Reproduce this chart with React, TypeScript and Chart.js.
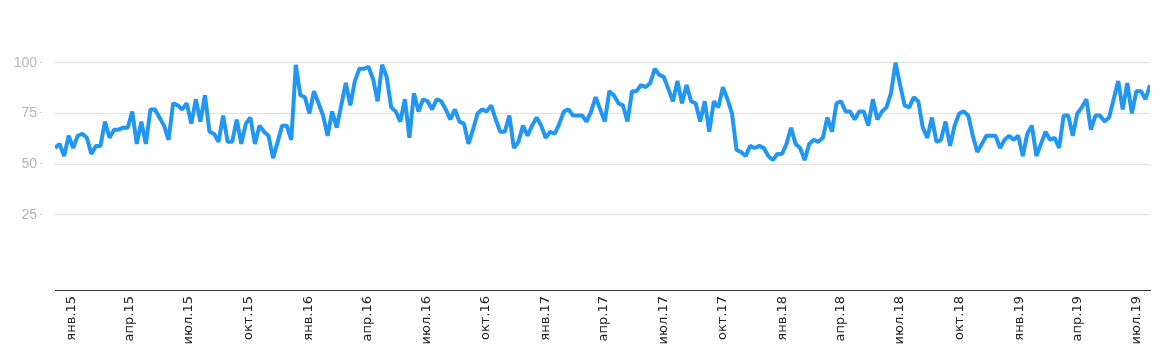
import React, { useEffect, useRef } from "react";
import { Chart, registerables } from "chart.js";

Chart.register(...registerables);

// Weekly interest values (starting week of 7 Dec 2014)
const weeksDec14ToSep15 = [
  58, 60, 54, 64, 58, 64, 65, 63, 55, 59, 59, 71, 63, 67, 67, 68, 68, 76, 60, 71,
  60, 77, 77, 73, 69, 62, 80, 79, 77, 80, 70, 82, 71, 84, 66, 65, 61, 74, 61, 61, 72,
];
const weeksSep15ToJun16 = [
  60, 70, 73, 60, 69, 66, 64, 53, 61, 69, 69, 62, 99, 84, 83, 75, 86, 80, 74, 64,
  76, 68, 79, 90, 79, 91, 97, 97, 98, 92, 81, 99, 93, 78, 76, 71, 82, 63, 85, 76,
];
const weeksJun16ToApr17 = [
  82, 81, 77, 82, 81, 77, 72, 77, 71, 70, 60, 67, 75, 77, 76, 79, 72, 66, 66, 74,
  58, 61, 69, 64, 69, 73, 69, 63, 66, 65, 70, 76, 77, 74, 74, 74, 71, 76, 83, 77, 71,
];
const weeksApr17ToJan18 = [
  86, 84, 80, 79, 71, 86, 86, 89, 88, 90, 97, 94, 93, 87, 81, 91, 80, 89, 81, 80,
  71, 81, 66, 81, 78, 88, 82, 75, 57, 56, 54, 59, 58, 59, 58, 54, 52, 55, 55, 60, 68,
];
const weeksJan18ToOct18 = [
  60, 58, 52, 60, 62, 61, 63, 73, 66, 80, 81, 76, 76, 72, 76, 76, 69, 82, 72, 76,
  78, 85, 100, 89, 79, 78, 83, 81, 68, 63, 73, 61, 62, 71, 59, 69, 75, 76, 74, 64, 56, 60,
];
const weeksOct18ToJul19 = [
  64, 64, 64, 58, 62, 64, 62, 64, 54, 65, 69, 54, 60, 66, 62, 63, 58, 74, 74, 64,
  75, 78, 82, 67, 74, 74, 71, 73, 82, 91, 77, 90, 75, 86, 86, 82, 89,
];

const series = [
  ...weeksDec14ToSep15,
  ...weeksSep15ToJun16,
  ...weeksJun16ToApr17,
  ...weeksApr17ToJan18,
  ...weeksJan18ToOct18,
  ...weeksOct18ToJul19,
];

const yTickValues = [25, 50, 75, 100];

const xTickLabels = [
  "янв.15", "апр.15", "июл.15", "окт.15",
  "янв.16", "апр.16", "июл.16", "окт.16",
  "янв.17", "апр.17", "июл.17", "окт.17",
  "янв.18", "апр.18", "июл.18", "окт.18",
  "янв.19", "апр.19", "июл.19",
];
// position of the 1st of each month, in weeks from the first data week
const xTickWeeks = [
  3.571, 16.429, 29.429, 42.571,
  55.714, 68.714, 81.714, 94.857,
  108.0, 120.857, 133.857, 147.0,
  160.143, 173.0, 186.0, 199.143,
  212.286, 225.143, 238.143,
];

const noPad = (s: any) => {
  s.paddingTop = 0;
  s.paddingBottom = 0;
  s.paddingLeft = 0;
  s.paddingRight = 0;
};

// small tick marks between the y labels and the plot
const yTickMarks = {
  id: "yTickMarks",
  afterDraw(chart: any) {
    const { ctx, scales } = chart;
    const y = scales.y;
    ctx.save();
    ctx.fillStyle = "#cfcfcf";
    y.ticks.forEach((t: any) => {
      const py = Math.round(y.getPixelForValue(t.value));
      ctx.fillRect(40, py - 1, 2, 1);
    });
    ctx.restore();
  },
};

export default function App() {
  const ref = useRef<HTMLCanvasElement>(null);

  useEffect(() => {
    document.body.style.margin = "0";
    const chart = new Chart(ref.current as HTMLCanvasElement, {
      type: "line",
      data: {
        datasets: [
          {
            data: series.map((v, i) => ({ x: i, y: v })),
            borderColor: "#2196f3",
            borderWidth: 4,
            pointRadius: 0,
            tension: 0,
            fill: false,
            borderJoinStyle: "bevel",
            borderCapStyle: "butt",
          },
        ],
      },
      plugins: [yTickMarks],
      options: {
        animation: false,
        responsive: false,
        layout: { padding: { top: 12, right: 19, left: 0, bottom: 0 } },
        plugins: { legend: { display: false }, tooltip: { enabled: false } },
        scales: {
          x: {
            type: "linear",
            min: 0,
            max: series.length - 1,
            afterBuildTicks: (s: any) => {
              s.ticks = xTickWeeks.map((v) => ({ value: v }));
            },
            afterFit: (s: any) => {
              s.height = 66;
              noPad(s);
            },
            grid: { display: false, drawTicks: false },
            border: { display: true, color: "#333333", width: 1 },
            ticks: {
              autoSkip: false,
              minRotation: 90,
              maxRotation: 90,
              padding: 6,
              color: "#222222",
              font: { family: "DejaVu Sans", size: 13 },
              callback: (_v: any, idx: number) => xTickLabels[idx],
            },
          },
          y: {
            type: "linear",
            min: -12,
            max: 125,
            afterBuildTicks: (s: any) => {
              s.ticks = yTickValues.map((v) => ({ value: v }));
            },
            afterFit: (s: any) => {
              s.width = 55;
              noPad(s);
            },
            grid: { color: "#e0e0e0", lineWidth: 1, drawTicks: false },
            border: { display: false },
            ticks: {
              padding: 18,
              color: "#b5b5b5",
              font: { family: "Arial", size: 14 },
            },
          },
        },
      },
    });
    return () => chart.destroy();
  }, []);

  return (
    <canvas
      ref={ref}
      width={1169}
      height={356}
      style={{ display: "block", width: "1169px", height: "356px" }}
    />
  );
}
